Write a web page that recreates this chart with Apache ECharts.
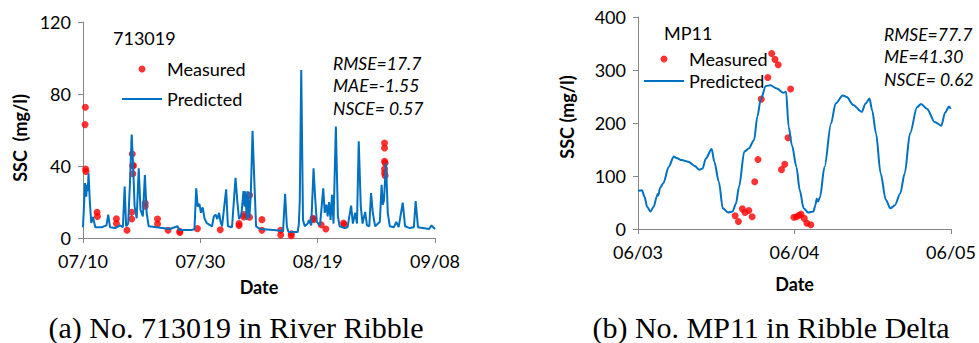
<!DOCTYPE html>
<html>
<head>
<meta charset="utf-8">
<script src="https://cdn.jsdelivr.net/npm/echarts@6/dist/echarts.min.js"></script>
<style>
  html, body { margin: 0; padding: 0; background: #fff; }
  #chart { width: 979px; height: 343px; }
</style>
</head>
<body>
<div id="chart"></div>
<script>
// (a) 713019 - x in days after 07/10
const datesA = ['07/10', '07/30', '08/19', '09/08'];
const predictedA = [
  [0, 6], [0.35, 30.5], [0.55, 23], [0.7, 29.6], [0.8, 26], [0.95, 36], [1.15, 21], [1.4, 8.4], [1.7, 11.7],
  [2.1, 6], [3.2, 6], [4.0, 7], [4.3, 13], [4.6, 6], [5.5, 5.5], [6.0, 6.5], [6.3, 7], [6.8, 6], [7.1, 28.6],
  [7.35, 6.5], [7.7, 8], [7.85, 19], [8.0, 30], [8.3, 57.5], [8.55, 39.6], [8.8, 17.4], [9.15, 11], [9.5, 38.7],
  [9.8, 15.7], [10.2, 12], [10.55, 35], [10.85, 13.9], [11.2, 6.5], [12.5, 6], [14.8, 5], [16.1, 6.5], [16.4, 4.5],
  [18.6, 4.5], [19.0, 5], [19.3, 27.6], [19.55, 17.4], [19.85, 19], [20.1, 14], [20.4, 17], [20.7, 11], [21.1, 8.3],
  [22.0, 6.5], [22.3, 12], [22.6, 13], [22.9, 10.5], [23.2, 14], [23.45, 9], [23.7, 6.5], [24.4, 27], [24.7, 6.5],
  [25.4, 6], [26.0, 33.5], [26.3, 20.5], [26.6, 10.5], [27.0, 13], [27.35, 26], [27.55, 17.4], [27.7, 26],
  [27.9, 10], [28.1, 26], [28.35, 11], [28.6, 24], [28.9, 59.6], [29.2, 32], [29.5, 6.5], [30.2, 5], [32.5, 4.4],
  [34.1, 3.9], [34.45, 24.6], [34.75, 6.5], [35.0, 3.5], [36.6, 3.3], [36.8, 8], [36.95, 21], [37.2, 93.3],
  [37.5, 10], [37.8, 6.5], [38.3, 8], [38.5, 10], [38.9, 7], [39.3, 38.7], [39.55, 23.5], [39.85, 9], [40.4, 7],
  [40.95, 27.6], [41.2, 14], [41.5, 18.5], [41.7, 12], [41.95, 20], [42.2, 10], [42.45, 24], [42.7, 8], [43.1, 62],
  [43.45, 12], [43.75, 6.5], [44.6, 5.5], [45.1, 6], [45.7, 18], [46.0, 8], [46.4, 14], [46.7, 8], [47.0, 53.7],
  [47.35, 17.4], [47.65, 8], [48.1, 14.5], [48.4, 7], [48.8, 6.5], [49.1, 25], [49.4, 14], [49.8, 6.5], [50.6, 9],
  [50.9, 29.6], [51.1, 18.5], [51.3, 21], [51.65, 41.7], [51.95, 14], [52.3, 6.5], [53.0, 6], [53.4, 9], [53.8, 6],
  [54.5, 19.7], [54.9, 6.5], [55.7, 5.5], [56.4, 6], [56.7, 20.5], [57.1, 6], [59.0, 5], [59.4, 7], [59.7, 6], [60, 5]
];
const measuredA = [
  [0.4, 72.6], [0.35, 63], [0.45, 38.3], [0.5, 37], [2.4, 14.3], [2.45, 12], [5.7, 10.7], [5.7, 8], [7.5, 4.3],
  [8.3, 14.3], [8.3, 10.6], [8.4, 46.7], [8.45, 40.2], [8.6, 40.2], [8.5, 35.7], [10.6, 19.4], [10.6, 17.6],
  [12.7, 10.6], [12.7, 7.8], [14.5, 4.3], [16.5, 3.7], [16.5, 3.1], [19.5, 5.2], [23.4, 4.6], [26.6, 8], [26.6, 6.9],
  [27.4, 13], [27.4, 11.7], [28.4, 23.7], [28.4, 11.5], [30.5, 10.2], [30.5, 4.3], [33.7, 4.3], [33.7, 1.7],
  [35.5, 2.4], [35.5, 1.3], [39.2, 11], [39.3, 10.2], [40.6, 7.4], [41.4, 5], [44.4, 8.3], [44.5, 7.4],
  [51.4, 52.8], [51.4, 50], [51.4, 42.6], [51.5, 41.7], [51.4, 38.3], [51.4, 36.1], [51.5, 34.6]
];
const statsA = ['RMSE=17.7', 'MAE=-1.55', 'NSCE= 0.57'];

// (b) MP11 - x in hours after 06/03
const datesB = ['06/03', '06/04', '06/05'];
const predictedB = [
  [0, 72], [0.6, 73], [1.0, 61], [1.4, 42], [1.9, 33], [2.4, 42], [2.9, 62], [3.0, 66], [3.1, 63], [3.4, 78],
  [3.9, 87], [4.7, 117], [5.5, 137], [5.9, 134], [6.7, 130], [7.7, 127], [8.7, 119], [9.4, 112], [9.9, 114],
  [10.4, 133], [11.3, 151], [11.7, 127], [12.4, 89], [13.0, 39], [13.8, 31], [14.5, 33], [15.0, 47], [15.5, 80],
  [16.3, 146], [17.0, 152], [17.8, 168], [18.3, 212], [18.8, 243], [19.6, 270], [20.3, 271], [21.3, 265],
  [22.3, 257], [22.7, 259], [23.1, 193], [23.6, 158], [24.3, 117], [24.8, 73], [25.4, 39], [26.1, 31], [26.9, 33],
  [27.2, 45], [27.4, 57], [27.6, 52], [27.9, 60], [28.6, 117], [29.6, 199], [30.3, 237], [31.4, 252], [32.0, 249],
  [33.0, 234], [34.3, 221], [34.9, 237], [35.5, 246], [35.9, 224], [36.5, 180], [37.2, 105], [38.0, 55],
  [38.7, 39], [39.4, 45], [40.2, 67], [40.9, 105], [41.7, 180], [42.8, 230], [43.4, 236], [44.3, 227],
  [45.5, 202], [46.5, 195], [47.1, 220], [47.7, 231], [47.95, 227]
];
const measuredB = [
  [14.9, 25], [15.4, 14], [16.0, 38], [16.4, 31], [17.0, 35], [17.5, 23], [17.9, 89], [18.4, 131], [18.9, 245],
  [19.9, 286], [20.5, 331], [21.0, 320], [21.5, 310], [22.0, 112], [22.5, 122], [23.0, 172], [23.4, 264],
  [23.9, 22], [24.3, 23], [24.7, 26], [25.0, 28], [25.5, 20], [25.9, 11], [26.5, 8]
];
const statsB = ['RMSE=77.7', 'ME=41.30', 'NSCE= 0.62'];

const axisColor = '#868686';
const blue = '#0070C0';
const red = '#FF0000';
const font = 'Lato';

function xAxisOf(gridIndex, max, step, labels, nameGap) {
  return {
    type: 'value', gridIndex: gridIndex, min: 0, max: max, interval: step,
    name: 'Date', nameLocation: 'middle', nameGap: nameGap,
    nameTextStyle: { fontFamily: font, fontSize: 18, fontWeight: 'bold', color: '#000' },
    axisLine: { show: true, lineStyle: { color: axisColor, width: 1 } },
    axisTick: { show: true, length: 5, lineStyle: { color: axisColor } },
    axisLabel: {
      formatter: v => labels[Math.round(v / step)],
      fontFamily: font, fontSize: 18, color: '#000', margin: 14
    },
    splitLine: { show: false }
  };
}

function yAxisOf(gridIndex, max, step, name, nameGap, pad) {
  return {
    type: 'value', gridIndex: gridIndex, min: 0, max: max, interval: step,
    name: name, nameLocation: 'middle', nameGap: nameGap,
    nameTextStyle: { fontFamily: font, fontSize: 18, fontWeight: 'bold', color: '#000', padding: pad },
    axisLine: { show: true, lineStyle: { color: axisColor, width: 1 } },
    axisTick: { show: true, length: 5, lineStyle: { color: axisColor } },
    axisLabel: { fontFamily: font, fontSize: 18, color: '#000', margin: 12 },
    splitLine: { show: false }
  };
}

// line legend icon without the marker dot
function legendOf(left, top, gap) {
  return {
    left: left, top: top, orient: 'vertical', padding: 0,
    itemWidth: 40, itemHeight: 7, itemGap: gap, selectedMode: false,
    data: ['Measured', { name: 'Predicted', itemStyle: { opacity: 0 } }],
    textStyle: { fontFamily: font, fontSize: 18, color: '#000', lineHeight: 20 }
  };
}

function text(str, x, y, style) {
  return {
    type: 'text', x: x, y: y, silent: true,
    style: Object.assign({ text: str, fill: '#000', fontFamily: font, fontSize: 18, verticalAlign: 'middle' }, style)
  };
}

const graphics = [
  text('713019', 113, 38),
  text('MP11', 664, 33)
];
statsA.forEach((s, i) => graphics.push(text(s, 333, 63 + i * 22.5, { fontStyle: 'italic', fontSize: 17.5 })));
statsB.forEach((s, i) => graphics.push(text(s, 884, 34 + i * 22.5, { fontStyle: 'italic', fontSize: 17.5 })));
graphics.push(text('(a) No. 713019 in River Ribble', 236, 327, { fontFamily: 'Liberation Serif', fontSize: 30, align: 'center' }));
graphics.push(text('(b) No. MP11 in Ribble Delta', 771, 327, { fontFamily: 'Liberation Serif', fontSize: 30, align: 'center' }));

const chart = echarts.init(document.getElementById('chart'), null, { renderer: 'svg' });
chart.setOption({
  backgroundColor: '#fff',
  animation: false,
  grid: [
    { left: 83, top: 22, width: 352, height: 216 },
    { left: 638, top: 17, width: 317, height: 212 }
  ],
  xAxis: [xAxisOf(0, 60, 20, datesA, 40), xAxisOf(1, 48, 24, datesB, 46)],
  yAxis: [
    yAxisOf(0, 120, 40, 'SSC  (mg/l)', 54, [0, 16, 0, 0]),
    yAxisOf(1, 400, 100, 'SSC (mg/l)', 62, [0, 0, 0, 12])
  ],
  legend: [legendOf(121, 59, 10), legendOf(643, 49, 2)],
  series: [
    {
      name: 'Predicted', type: 'line', xAxisIndex: 0, yAxisIndex: 0, data: predictedA,
      symbol: 'none', lineStyle: { color: blue, width: 2 }, itemStyle: { color: blue }
    },
    {
      name: 'Measured', type: 'scatter', xAxisIndex: 0, yAxisIndex: 0, data: measuredA,
      symbolSize: 7, itemStyle: { color: red }
    },
    {
      name: 'Predicted', type: 'line', xAxisIndex: 1, yAxisIndex: 1, data: predictedB,
      symbol: 'none', smooth: 0.3, smoothMonotone: 'x',
      lineStyle: { color: blue, width: 2 }, itemStyle: { color: blue }
    },
    {
      name: 'Measured', type: 'scatter', xAxisIndex: 1, yAxisIndex: 1, data: measuredB,
      symbolSize: 7, itemStyle: { color: red }
    }
  ],
  graphic: graphics
});
</script>
</body>
</html>
